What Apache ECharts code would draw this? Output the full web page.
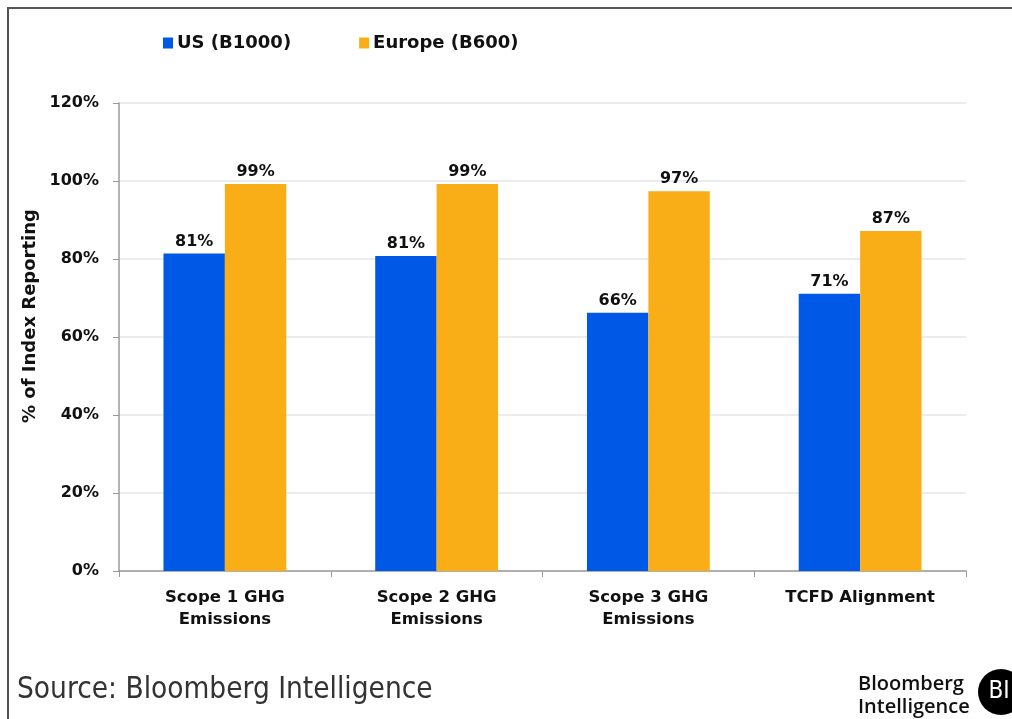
<!DOCTYPE html>
<html>
<head>
<meta charset="utf-8">
<script src="https://cdn.jsdelivr.net/npm/echarts@6/dist/echarts.min.js"></script>
<style>
html,body{margin:0;padding:0;background:#fff;}
#c{width:1012px;height:719px;}
</style>
</head>
<body>
<div id="c"></div>
<script>
const categories = ['Scope 1 GHG\nEmissions', 'Scope 2 GHG\nEmissions', 'Scope 3 GHG\nEmissions', 'TCFD Alignment'];
const usValues = [81.4, 80.8, 66.2, 71.1];
const europeValues = [99.2, 99.2, 97.4, 87.2];
const seriesNames = ['US (B1000)', 'Europe (B600)'];
const yTicks = [0, 20, 40, 60, 80, 100, 120];

const FONT = 'DejaVu Sans';
const chart = echarts.init(document.getElementById('c'), null, {renderer: 'canvas'});
const labelStyle = {
  show: true, position: 'top', distance: 4,
  fontFamily: FONT, fontWeight: 'bold', fontSize: 16, color: '#111',
  formatter: p => Math.round(p.value) + '%'
};
chart.setOption({
  backgroundColor: '#fff',
  animation: false,
  color: ['#0058e6', '#f9ae18'],
  legend: {
    data: seriesNames,
    left: 158, top: 29,
    icon: 'rect', itemWidth: 10, itemHeight: 11, itemGap: 68,
    textStyle: {fontFamily: FONT, fontWeight: 'bold', fontSize: 18, color: '#111', padding: [0,0,0,-1]}
  },
  grid: {left: 119, right: 46, top: 103, bottom: 148},
  xAxis: {
    type: 'category',
    data: categories,
    axisLine: {lineStyle: {color: '#9a9a9a', width: 1.5}},
    axisTick: {show: true, length: 6, lineStyle: {color: '#9a9a9a'}},
    axisLabel: {fontFamily: FONT, fontWeight: 'bold', fontSize: 16.5, color: '#111', lineHeight: 22, margin: 16}
  },
  yAxis: {
    type: 'value', min: 0, max: 120, interval: 20,
    axisLine: {show: true, lineStyle: {color: '#9a9a9a', width: 1.5}},
    axisTick: {show: true, length: 6, lineStyle: {color: '#9a9a9a'}},
    splitLine: {lineStyle: {color: '#e6e6e6', width: 1.5}},
    axisLabel: {fontFamily: FONT, fontWeight: 'bold', fontSize: 16, color: '#111', margin: 20,
      formatter: v => v + '%'}
  },
  graphic: [
    {type: 'rect', shape: {x: 8, y: 8, width: 1100, height: 800},
     style: {fill: 'none', stroke: '#555', lineWidth: 2}, z: 100},
    {type: 'text', x: 30, y: 316, rotation: Math.PI/2,
     style: {text: '% of Index Reporting', fontFamily: FONT, fontWeight: 'bold', fontSize: 18, fill: '#111',
       textAlign: 'center', textVerticalAlign: 'middle'}},
    {type: 'text', left: 17, top: 675,
     style: {text: 'Source: Bloomberg Intelligence', fontFamily: 'DejaVu Sans Condensed', fontSize: 29.5, fill: '#333'}},
    {type: 'text', left: 858, top: 673,
     style: {text: 'Bloomberg\nIntelligence', fontFamily: 'Open Sans', fontWeight: 600, fontSize: 20, lineHeight: 23, fill: '#111'}},
    {type: 'circle', shape: {cx: 1001, cy: 692, r: 23}, style: {fill: '#000'}},
    {type: 'text', x: 999, y: 692,
     style: {text: 'BI', fontFamily: 'DejaVu Sans Condensed', fontSize: 24, fill: '#fff', textAlign: 'center', textVerticalAlign: 'middle'}}
  ],
  series: [
    {name: seriesNames[0], type: 'bar', data: usValues, barWidth: '29%', barGap: '0%', label: labelStyle},
    {name: seriesNames[1], type: 'bar', data: europeValues, barWidth: '29%', barGap: '0%', label: labelStyle}
  ]
});
</script>
</body>
</html>
